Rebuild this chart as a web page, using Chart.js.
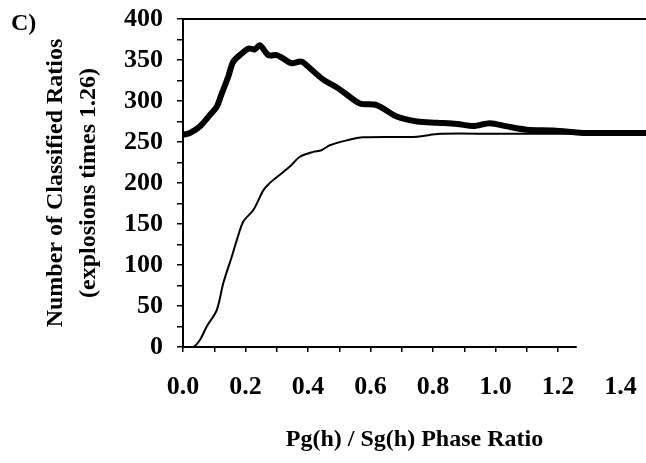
<!DOCTYPE html>
<html>
<head>
<meta charset="utf-8">
<script src="https://cdn.jsdelivr.net/npm/chart.js@4.4.0/dist/chart.umd.min.js"></script>
<style>
  html, body { margin: 0; padding: 0; background: #fff; }
  #wrap { position: relative; width: 646px; height: 463px; }
  #panel { position: absolute; left: 11px; top: 9px; font: bold 24px "Liberation Serif", serif; color: #000; }
</style>
</head>
<body>
<div id="wrap">
  <div id="panel">C)</div>
  <canvas id="myChart" width="646" height="463"></canvas>
</div>
<script>
// thick curve
const thickX = [0, 0.022, 0.054, 0.086, 0.108, 0.124, 0.145, 0.161, 0.188, 0.21, 0.23, 0.246, 0.273, 0.3, 0.32, 0.347, 0.379, 0.406, 0.449, 0.49, 0.513, 0.566, 0.62, 0.684, 0.749, 0.813, 0.877, 0.93, 0.982, 1.036, 1.1, 1.185, 1.292, 1.38, 1.49];
const thickY = [259, 261, 269, 283, 293, 309, 330, 348, 358, 364, 363, 368, 356, 356, 352, 346, 348, 340, 326, 317, 311, 297, 295, 281, 275, 273.5, 272, 269.5, 273, 269, 265, 264, 261, 261, 261];

// thin curve
const thinX = [0, 0.033, 0.054, 0.076, 0.108, 0.129, 0.156, 0.172, 0.193, 0.225, 0.257, 0.278, 0.31, 0.342, 0.374, 0.417, 0.443, 0.47, 0.524, 0.577, 0.749, 0.822, 1.0, 1.49];
const thinY = [0, 0, 8.5, 25, 45, 78, 110, 130, 153, 167, 191, 200, 210, 220, 232, 238, 240, 246, 252, 255.7, 256.5, 260, 260, 260];

const xTickLabels = ['0.0', '0.2', '0.4', '0.6', '0.8', '1.0', '1.2', '1.4'];
const yTickLabels = [0, 50, 100, 150, 200, 250, 300, 350, 400];
const xMax = 1.4816;
const axisEnd = 1.26; // bottom axis line stops here in the original

const serif = '"Liberation Serif", "Times New Roman", serif';

// draws the top frame line and the short bottom axis
const framePlugin = {
  id: 'frame',
  afterDraw(chart) {
    const c = chart.ctx, a = chart.chartArea, xs = chart.scales.x;
    c.save();
    c.strokeStyle = '#000';
    c.lineWidth = 2;
    c.beginPath();
    c.moveTo(a.left, a.top);
    c.lineTo(a.right, a.top);
    c.moveTo(a.left, a.bottom);
    c.lineTo(xs.getPixelForValue(axisEnd), a.bottom);
    c.stroke();
    c.restore();
  }
};

const ctx = document.getElementById('myChart').getContext('2d');
const myChart = new Chart(ctx, {
  type: 'line',
  data: {
    datasets: [
      {
        label: 'thick',
        data: thickX.map((x, i) => ({ x: x, y: thickY[i] })),
        borderColor: '#000',
        borderWidth: 6,
        pointRadius: 0,
        tension: 0.3,
        fill: false
      },
      {
        label: 'thin',
        data: thinX.map((x, i) => ({ x: x, y: thinY[i] })),
        borderColor: '#000',
        borderWidth: 2,
        pointRadius: 0,
        tension: 0.3,
        fill: false
      }
    ]
  },
  options: {
    responsive: false,
    animation: false,
    layout: { padding: { top: 19, right: 0, bottom: 0, left: 0 } },
    plugins: {
      legend: { display: false },
      tooltip: { enabled: false }
    },
    scales: {
      x: {
        type: 'linear',
        min: 0,
        max: xMax,
        afterFit: (s) => {
          s.height = 116;
          s.paddingLeft = 0;
          s.paddingRight = 0; // let the plot run to the right edge
        },
        afterBuildTicks: (s) => {
          s.ticks = [];
          for (let i = 0; i <= 14; i++) s.ticks.push({ value: i / 10 });
          s.ticks.push({ value: xMax });
        },
        border: { display: false },
        grid: {
          drawOnChartArea: false,
          drawTicks: true,
          tickLength: 5,
          lineWidth: 1.5,
          color: (c) => (c.tick && c.tick.value <= axisEnd ? '#000' : 'rgba(0,0,0,0)')
        },
        ticks: {
          autoSkip: false,
          maxRotation: 0,
          padding: 20,
          color: '#000',
          font: { family: serif, size: 26, weight: 'bold' },
          callback: (v) => {
            if (v > 1.45) return '';
            const k = Math.round(v * 10);
            return k % 2 === 0 ? xTickLabels[k / 2] : '';
          }
        },
        title: {
          display: true,
          text: 'Pg(h) / Sg(h) Phase Ratio',
          color: '#000',
          font: { family: serif, size: 24, weight: 'bold' },
          padding: { top: 0, bottom: 9 }
        }
      },
      y: {
        min: 0,
        max: 400,
        afterFit: (s) => {
          s.width = 183;
          s.paddingTop = 0;
          s.paddingBottom = 0;
        },
        afterBuildTicks: (s) => {
          s.ticks = [];
          for (let v = 0; v <= 400; v += 25) s.ticks.push({ value: v });
        },
        border: { display: true, color: '#000', width: 2 },
        grid: {
          drawOnChartArea: false,
          drawTicks: true,
          tickLength: 6,
          lineWidth: 1.5,
          color: '#000'
        },
        ticks: {
          autoSkip: false,
          padding: 14,
          color: '#000',
          font: { family: serif, size: 26, weight: 'bold' },
          callback: (v) => (yTickLabels.includes(v) ? String(v) : '')
        },
        title: {
          display: true,
          text: ['Number of Classified Ratios', '(explosions times 1.26)'],
          color: '#000',
          font: { family: serif, size: 24, weight: 'bold', lineHeight: 1.375 },
          padding: { top: 39, bottom: 0 }
        }
      }
    }
  },
  plugins: [framePlugin]
});
</script>
</body>
</html>
